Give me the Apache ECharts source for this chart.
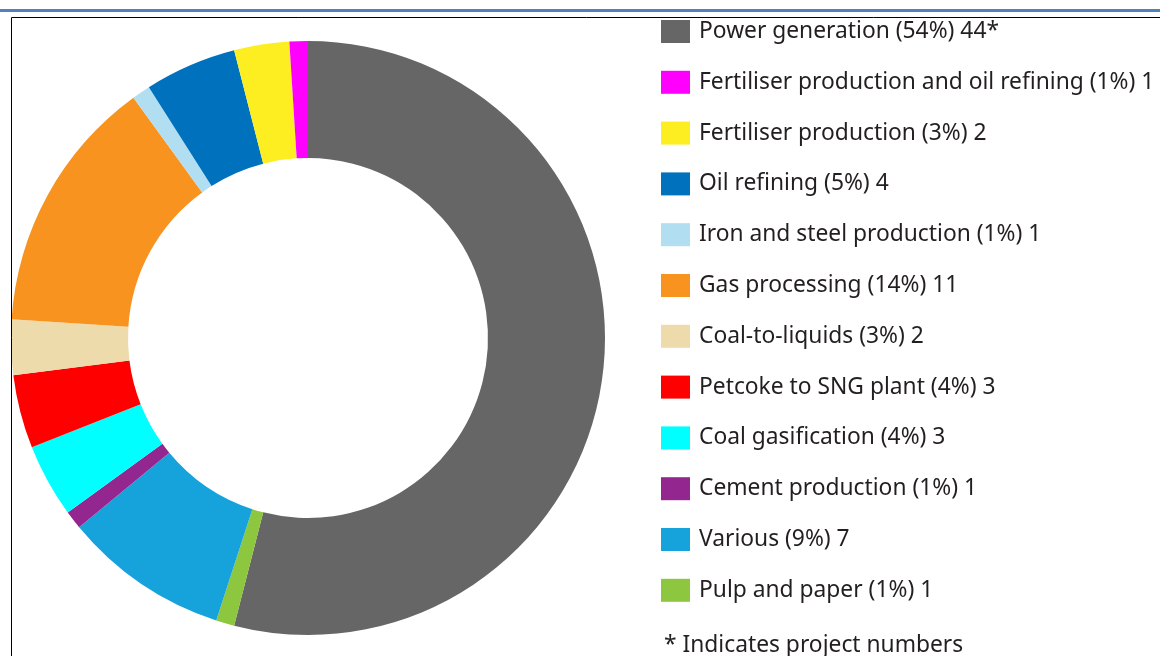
<!DOCTYPE html>
<html>
<head>
<meta charset="utf-8">
<script src="https://cdn.jsdelivr.net/npm/echarts@6/dist/echarts.min.js"></script>
<style>
  html, body { margin: 0; padding: 0; background: #fff; }
  #chart { width: 1160px; height: 656px; }
</style>
</head>
<body>
<div id="chart"></div>
<script>
// clockwise order round the ring, starting at 12 o'clock
const sectors = ['Power generation', 'Pulp and paper', 'Various', 'Cement production',
  'Coal gasification', 'Petcoke to SNG plant', 'Coal-to-liquids', 'Gas processing',
  'Iron and steel production', 'Oil refining', 'Fertiliser production',
  'Fertiliser production and oil refining'];
const shares = [54, 1, 9, 1, 4, 4, 3, 14, 1, 5, 3, 1];
const projects = ['44*', '1', '7', '1', '3', '3', '2', '11', '1', '4', '2', '1'];
const colors = ['#666666', '#8dc63f', '#16a2db', '#93278f', '#00ffff', '#ff0000',
  '#eedbac', '#f7931e', '#b2def2', '#0071bc', '#fcee21', '#ff00ff'];
// legend runs power first, then the rest anticlockwise
const legendOrder = ['Power generation', 'Fertiliser production and oil refining',
  'Fertiliser production', 'Oil refining', 'Iron and steel production', 'Gas processing',
  'Coal-to-liquids', 'Petcoke to SNG plant', 'Coal gasification', 'Cement production',
  'Various', 'Pulp and paper'];

const myChart = echarts.init(document.getElementById('chart'));
const font = 'Noto Sans';

const option = {
  animation: false,
  color: colors,
  graphic: [
    { type: 'rect', shape: { x: 0, y: 9, width: 1160, height: 3 }, style: { fill: '#4f81bd' } },
    { type: 'rect', shape: { x: 11.5, y: 17.5, width: 1200, height: 700 },
      style: { fill: null, stroke: '#000', lineWidth: 1 }, z: 10 },
    { type: 'text', left: 664, top: 634,
      style: { text: '* Indicates project numbers', fontSize: 22.8, fontFamily: font, fill: '#231f20' } }
  ],
  legend: {
    orient: 'vertical',
    left: 661,
    top: 20,
    padding: 0,
    data: legendOrder,
    icon: 'rect',
    itemWidth: 29,
    itemHeight: 23,
    itemGap: 27.8,
    selectedMode: false,
    textStyle: { fontSize: 22.8, fontFamily: font, color: '#231f20', lineHeight: 23, padding: [0, 0, 0, 4] },
    formatter: function (name) {
      const i = sectors.indexOf(name);
      return name + ' (' + shares[i] + '%) ' + projects[i];
    }
  },
  series: [{
    type: 'pie',
    center: [308, 338],
    radius: [180, 297],
    startAngle: 90,
    clockwise: true,
    label: { show: false },
    labelLine: { show: false },
    emphasis: { disabled: true },
    data: sectors.map((s, i) => ({ name: s, value: shares[i] }))
  }]
};

myChart.setOption(option);
</script>
</body>
</html>
